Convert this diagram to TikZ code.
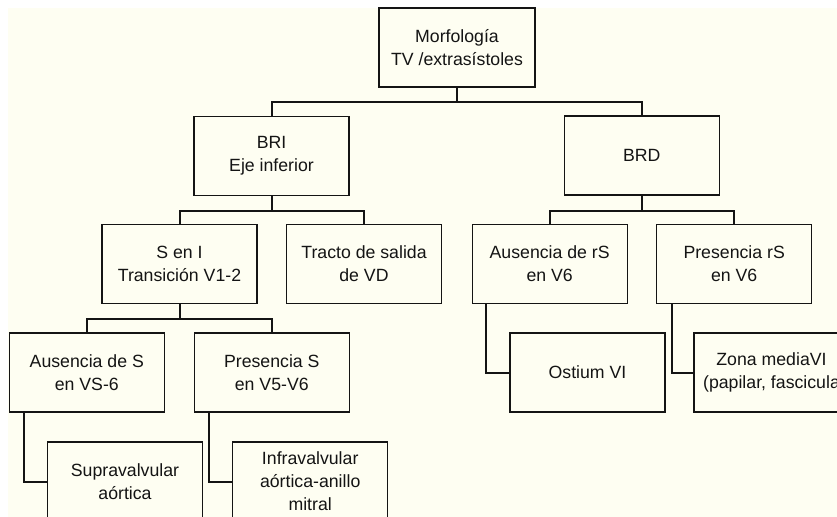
\documentclass[tikz,border=0pt]{standalone}
\usepackage{fontspec}
\setmainfont{Liberation Sans}
\definecolor{cream}{RGB}{254,254,242}
\definecolor{ink}{RGB}{20,20,20}
\tikzset{
  box/.style={draw=ink, line width=1.1bp, fill=cream, minimum width=155bp, minimum height=79bp,
    inner sep=0pt, align=center, text=ink, font=\fontsize{17.7bp}{23bp}\selectfont},
  conn/.style={draw=ink, line width=2bp},
}
\begin{document}
\begin{tikzpicture}[x=1bp,y=-1bp]
\useasboundingbox (0,0) rectangle (837,517);
\fill[white] (0,0) rectangle (837,517);
\clip (0,0) rectangle (837,517);
\fill[cream] (8,8) rectangle (837,517);
% nodes
\node[box, minimum width=156bp] (top) at (457,47.5) {Morfología\\TV /extrasístoles};
\node[box] (BRI) at (271.5,156) {BRI\\Eje inferior};
\node[box] (BRD) at (641.8,155.5) {BRD};
\node[box] (SenI) at (179.5,264) {S en I\\Transición V1-2};
\node[box] (Tracto) at (364,264) {Tracto de salida\\de VD};
\node[box] (AusRS) at (549.7,264) {Ausencia de rS\\en V6};
\node[box] (PresRS) at (734.2,264) {Presencia rS\\en V6};
\node[box] (AusS) at (86.8,372.5) {Ausencia de S\\en VS-6};
\node[box] (PresS) at (271.8,372.5) {Presencia S\\en V5-V6};
\node[box] (Supra) at (125,481.5) {Supravalvular\\aórtica};
\node[box] (Infra) at (310.2,481.5) {Infravalvular\\aórtica-anillo\\mitral};
\node[box] (Ostium) at (587.5,372.5) {Ostium VI};
\node[box] (Zona) at (771.5,372.5) {Zona mediaVI\\(papilar, fascicula};
% connectors
\draw[conn] (top.south) -- ++(0,14) coordinate (j1);
\draw[conn] (BRI.north) |- (j1) -| (BRD.north);
\draw[conn] (BRI.south) -- ++(0,15) coordinate (j2);
\draw[conn] (SenI.north) |- (j2) -| (Tracto.north);
\draw[conn] (BRD.south) -- ++(0,15) coordinate (j3);
\draw[conn] (AusRS.north) |- (j3) -| (PresRS.north);
\draw[conn] (SenI.south) -- ++(0,15) coordinate (j4);
\draw[conn] (AusS.north) |- (j4) -| (PresS.north);
\draw[conn] (AusS.south west) ++(15.7,0) |- (Supra.west);
\draw[conn] (PresS.south west) ++(15.7,0) |- (Infra.west);
\draw[conn] (AusRS.south west) ++(14.6,0) |- (Ostium.west);
\draw[conn] (PresRS.south west) ++(16,0) |- (Zona.west);
\end{tikzpicture}
\end{document}
